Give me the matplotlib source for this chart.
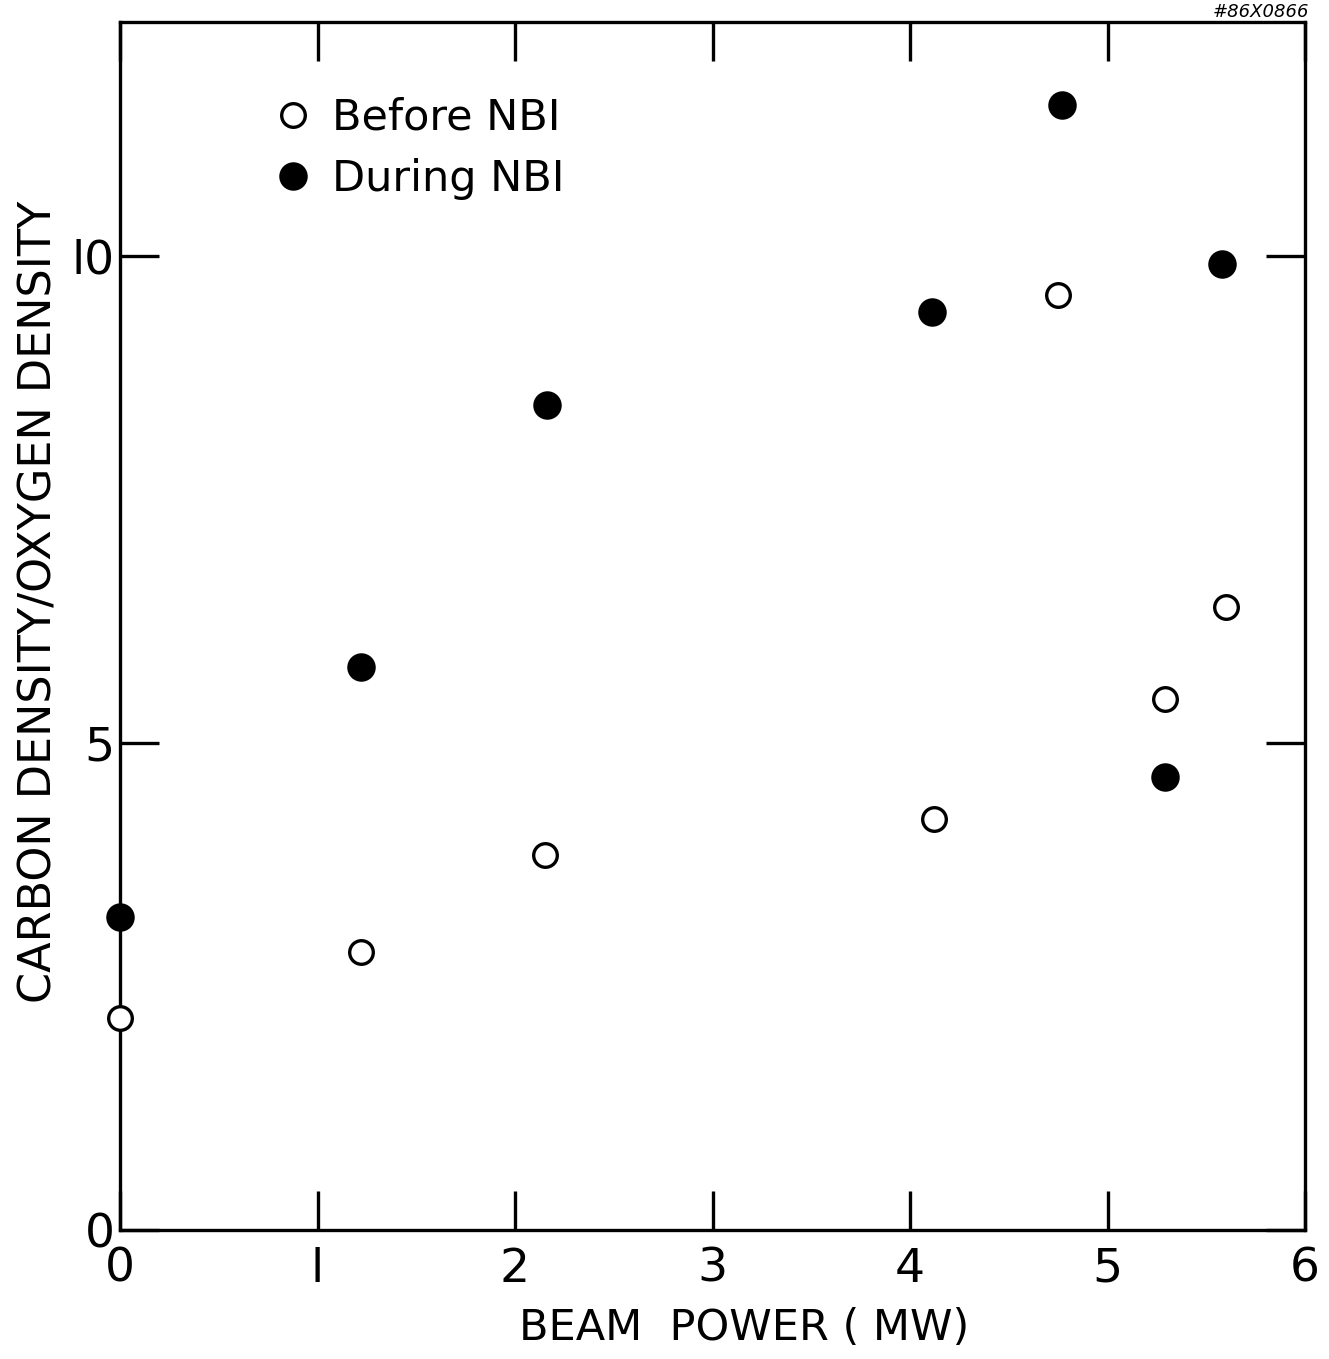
import matplotlib
matplotlib.use('Agg')
import matplotlib.pyplot as plt

# beam power (MW) and C/O density ratio
before_power = [0.0, 1.22, 2.15, 4.12, 4.75, 5.29, 5.60]
before_ratio = [2.18, 2.85, 3.85, 4.22, 9.6, 5.45, 6.4]

during_power = [0.0, 1.22, 2.16, 4.11, 4.77, 5.58, 5.29]
during_ratio = [3.21, 5.78, 8.47, 9.42, 11.55, 9.92, 4.65]

xticks = [0, 1, 2, 3, 4, 5, 6]
xticklabels = ['0', 'l', '2', '3', '4', '5', '6']
yticks = [0, 5, 10]
yticklabels = ['0', '5', 'l0']

plt.rcParams['font.family'] = ['DejaVu Sans']

fig = plt.figure(figsize=(13.29, 13.59), dpi=100)
ax = fig.add_axes([120 / 1329, 1 - 1230 / 1359, 1185 / 1329, 1208 / 1359])

ax.plot(before_power, before_ratio, 'o', ms=17, mfc='white', mec='black', mew=2.4,
        clip_on=False, zorder=5, label='Before NBI')
ax.plot(during_power, during_ratio, 'o', ms=19, mfc='black', mec='black', mew=1.5,
        clip_on=False, zorder=5, label='During NBI')

ax.set_xlim(0, 6)
ax.set_ylim(0, 12.4)

ax.set_xticks(xticks)
ax.set_xticklabels(xticklabels)
ax.set_yticks(yticks)
ax.set_yticklabels(yticklabels)
ax.tick_params(direction='in', length=28, width=2.4, labelsize=34,
               top=True, right=True)
ax.tick_params(axis='x', pad=12)
ax.tick_params(axis='y', pad=4)
for s in ax.spines.values():
    s.set_linewidth(2.4)

ax.set_xlabel('BEAM  POWER ( MW)', fontsize=31)
ax.xaxis.set_label_coords(0.527, -0.064)
ax.set_ylabel('CARBON DENSITY/OXYGEN DENSITY', fontsize=32)
ax.yaxis.set_label_coords(-0.05, 0.52)

leg = ax.legend(loc='upper left', bbox_to_anchor=(0.095, 0.97), frameon=False,
                fontsize=31, handletextpad=0.4, labelspacing=0.45, handlelength=1.0)

fig.text(0.985, 1 - 3 / 1359, '#86X0866', ha='right', va='top', fontsize=13,
         style='italic')

fig.savefig('out.png', dpi=100, facecolor='white')
